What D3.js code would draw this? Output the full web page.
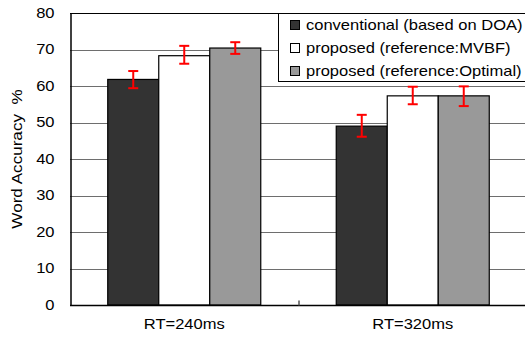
<!DOCTYPE html>
<html>
<head>
<meta charset="utf-8">
<script src="https://cdn.jsdelivr.net/npm/d3@7"></script>
<style>
  body { margin: 0; background: #fff; }
  svg text { font-family: "Liberation Sans", Arial, sans-serif; fill: #000; }
</style>
</head>
<body>
<svg id="chart" width="525" height="345"></svg>
<script>
// data
var categories = ["RT=240ms", "RT=320ms"];
var seriesNames = ["conventional (based on DOA)", "proposed (reference:MVBF)", "proposed (reference:Optimal)"];
var seriesColors = ["#333333", "#ffffff", "#999999"];
var conventional = [61.8, 49.0];
var mvbf = [68.3, 57.3];
var optimal = [70.4, 57.3];
var errLow = [[59.4, 46.1], [66.1, 55.0], [68.8, 54.5]];
var errHigh = [[64.1, 52.1], [71.0, 59.8], [72.0, 59.9]];
var yTicks = [0, 10, 20, 30, 40, 50, 60, 70, 80];

var values = [conventional, mvbf, optimal];

// the original font is wider than Arial, so stretch text along its own direction
var SX = 1.18;

var svg = d3.select("#chart");
var mLeft = 70, mTop = 13, mBottom = 305, mRight = 527;

var y = d3.scaleLinear().domain([0, 80]).range([mBottom, mTop]);
var x0 = d3.scaleBand().domain(categories).range([mLeft, mRight]).padding(0);
var x1 = d3.scaleBand().domain(d3.range(seriesNames.length))
  .range([0, x0.bandwidth()]).paddingInner(0).paddingOuter(0.74);

// gridlines
svg.append("g").selectAll("line")
  .data(yTicks.filter(function(t) { return t > 0 && t < 80; }))
  .enter().append("line")
  .attr("x1", mLeft).attr("x2", mRight)
  .attr("y1", function(d) { return Math.round(y(d)) + 0.5; })
  .attr("y2", function(d) { return Math.round(y(d)) + 0.5; })
  .attr("stroke", "#6e6e6e").attr("stroke-width", 1);

// top border
svg.append("line")
  .attr("x1", mLeft).attr("x2", mRight)
  .attr("y1", Math.round(y(80)) + 0.5).attr("y2", Math.round(y(80)) + 0.5)
  .attr("stroke", "#000");

// bars
var groups = svg.append("g").selectAll("g")
  .data(categories).enter().append("g")
  .attr("transform", function(d) { return "translate(" + x0(d) + ",0)"; });

groups.selectAll("rect")
  .data(function(d, ci) { return values.map(function(v, si) { return { s: si, v: v[ci] }; }); })
  .enter().append("rect")
  .attr("x", function(d) { return x1(d.s); })
  .attr("width", x1.bandwidth())
  .attr("y", function(d) { return y(d.v); })
  .attr("height", function(d) { return y(0) - y(d.v); })
  .attr("fill", function(d) { return seriesColors[d.s]; })
  .attr("stroke", "#000").attr("stroke-width", 1.2);

// error bars
var errs = groups.selectAll("g.err")
  .data(function(d, ci) {
    return values.map(function(v, si) { return { s: si, lo: errLow[si][ci], hi: errHigh[si][ci] }; });
  })
  .enter().append("g").attr("class", "err")
  .attr("stroke", "#ff0000").attr("stroke-width", 2);

function cx(d) { return x1(d.s) + x1.bandwidth() / 2; }
errs.append("line")
  .attr("x1", cx).attr("x2", cx)
  .attr("y1", function(d) { return y(d.lo); })
  .attr("y2", function(d) { return y(d.hi); });
errs.append("line")
  .attr("x1", function(d) { return cx(d) - 5; })
  .attr("x2", function(d) { return cx(d) + 5; })
  .attr("y1", function(d) { return y(d.lo); })
  .attr("y2", function(d) { return y(d.lo); });
errs.append("line")
  .attr("x1", function(d) { return cx(d) - 5; })
  .attr("x2", function(d) { return cx(d) + 5; })
  .attr("y1", function(d) { return y(d.hi); })
  .attr("y2", function(d) { return y(d.hi); });

// y axis
var yAxis = svg.append("g")
  .attr("transform", "translate(" + (mLeft + 0.5) + ",0)")
  .call(d3.axisLeft(y).tickValues(yTicks).tickSize(0).tickPadding(16));
yAxis.select(".domain").attr("stroke", "#000").attr("stroke-width", 1.5);
yAxis.selectAll("text")
  .attr("font-size", 14).attr("fill", "#000")
  .attr("x", -16 / SX)
  .attr("transform", "scale(" + SX + ",1)");

// x axis with inner category ticks
var xAxis = svg.append("g")
  .attr("transform", "translate(0," + (mBottom + 0.5) + ")");
xAxis.append("line")
  .attr("x1", mLeft).attr("x2", mRight)
  .attr("stroke", "#000").attr("stroke-width", 1.5);
xAxis.selectAll("line.tick")
  .data(categories.slice(1)).enter().append("line").attr("class", "tick")
  .attr("x1", function(d) { return x0(d) + 0.5; })
  .attr("x2", function(d) { return x0(d) + 0.5; })
  .attr("y1", 0).attr("y2", -5)
  .attr("stroke", "#555").attr("stroke-width", 1.5);
xAxis.selectAll("text")
  .data(categories).enter().append("text")
  .attr("transform", function(d) {
    return "translate(" + (x0(d) + x0.bandwidth() / 2) + ",23.5) scale(" + SX + ",1)";
  })
  .attr("text-anchor", "middle")
  .attr("font-size", 14)
  .text(function(d) { return d; });

// y title
svg.append("text")
  .attr("transform", "translate(22," + ((mTop + mBottom) / 2) + ") rotate(-90) scale(" + SX + ",1)")
  .attr("text-anchor", "middle")
  .attr("font-size", 14.5)
  .style("white-space", "pre")
  .text("Word Accuracy  %");

// legend
var legend = svg.append("g");
legend.append("rect")
  .attr("x", 278.5).attr("y", 13.5).attr("width", 260).attr("height", 68)
  .attr("fill", "#fff").attr("stroke", "#000");
var items = legend.selectAll("g.item")
  .data(seriesNames).enter().append("g").attr("class", "item")
  .attr("transform", function(d, i) { return "translate(0," + (25 + i * 23) + ")"; });
items.append("rect")
  .attr("x", 290.5).attr("y", -4.5).attr("width", 9).attr("height", 9)
  .attr("fill", function(d, i) { return seriesColors[i]; })
  .attr("stroke", "#000");
items.append("text")
  .attr("transform", "translate(306,0) scale(" + SX + ",1)")
  .attr("dy", "0.36em")
  .attr("font-size", 14)
  .text(function(d) { return d; });
</script>
</body>
</html>
